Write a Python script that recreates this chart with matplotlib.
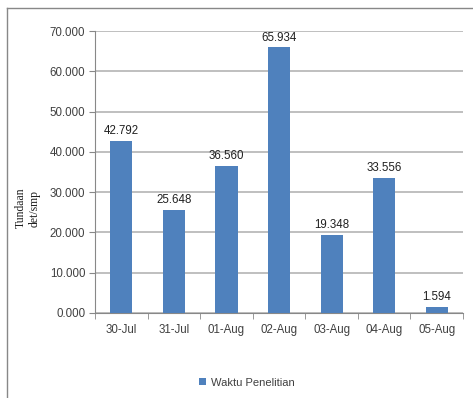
import matplotlib.pyplot as plt
from matplotlib.lines import Line2D
from matplotlib.ticker import FuncFormatter, MultipleLocator

# data (values in thousands shown with "." separator)
dates = ["30-Jul", "31-Jul", "01-Aug", "02-Aug", "03-Aug", "04-Aug", "05-Aug"]
tundaan = [42.792, 25.648, 36.560, 65.934, 19.348, 33.556, 1.594]
series_name = "Waktu Penelitian"

bar_color = "#4F81BD"
grid_color = "#BFBFBF"
text_color = "#404040"
font = "Liberation Sans"

fig = plt.figure(figsize=(4.73, 3.98), dpi=100)
ax = fig.add_axes([0.201, 0.2136, 0.778, 0.7084])

x = range(len(dates))
bars = ax.bar(x, tundaan, width=0.42, color=bar_color, label=series_name, zorder=3)

for xi, v in zip(x, tundaan):
    ax.text(xi, v + 0.9, f"{v:.3f}", ha="center", va="bottom",
            fontsize=8.3, family=font, color="#202020")

ax.set_xlim(-0.5, len(dates) - 0.5)
ax.set_ylim(0, 70)
ax.yaxis.set_major_locator(MultipleLocator(10))
ax.yaxis.set_major_formatter(FuncFormatter(lambda v, p: f"{v:.3f}"))
ax.set_xticks(list(x))
ax.set_xticklabels(dates)
ax.set_xticks([i - 0.5 for i in range(len(dates) + 1)], minor=True)

ax.grid(axis="y", color=grid_color, linewidth=1.4, zorder=0)
for s in ["top", "right"]:
    ax.spines[s].set_visible(False)
ax.spines["left"].set_color("#888888")
ax.spines["bottom"].set_color("#888888")

ax.tick_params(axis="y", length=4, color="#888888", labelsize=8.3,
               labelcolor=text_color, pad=3)
ax.tick_params(axis="x", which="major", length=0, labelsize=8.3,
               labelcolor=text_color, pad=8)
ax.tick_params(axis="x", which="minor", length=4, color="#888888")
for lbl in ax.get_xticklabels() + ax.get_yticklabels():
    lbl.set_family(font)

fig.text(0.058, 0.477, "Tundaan\ndet/smp", rotation=90, ha="center", va="center",
         family="Liberation Serif", fontsize=8.5, color="#202020")

leg = fig.legend(handles=[bars], labels=[series_name], loc="center",
                 bbox_to_anchor=(0.522, 0.038), frameon=False,
                 prop={"family": font, "size": 8.0}, handlelength=0.6,
                 handleheight=0.6, handletextpad=0.4)
for t in leg.get_texts():
    t.set_color(text_color)

# outer chart frame (top and left edges visible)
fig.add_artist(Line2D([7 / 473, 1], [1 - 8 / 398, 1 - 8 / 398],
                      transform=fig.transFigure, color="#888888", linewidth=1))
fig.add_artist(Line2D([7 / 473, 7 / 473], [0, 1 - 8 / 398],
                      transform=fig.transFigure, color="#888888", linewidth=1))

fig.savefig("out.png", dpi=100)
